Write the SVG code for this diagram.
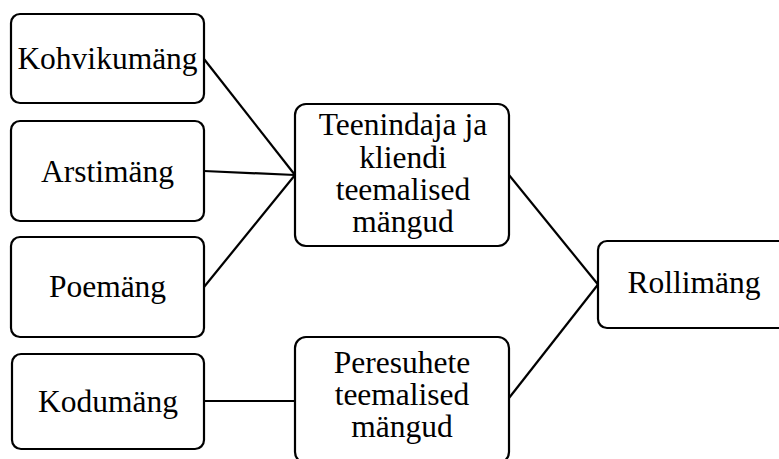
<svg xmlns="http://www.w3.org/2000/svg" width="779" height="459" viewBox="0 0 779 459">
<style>
.box{fill:#fff;stroke:#000;stroke-width:2.2}
text{font-family:"Times New Roman","Liberation Serif",Tinos,"DejaVu Serif","Noto Serif",serif;font-size:31.5px;fill:#000;text-anchor:middle}
.c line{stroke:#000;stroke-width:2.2}
</style>
<rect width="779" height="459" fill="#fff"/>
<g class="c" id="connectors">
<line x1="204" y1="59" x2="295" y2="175"/>
<line x1="204" y1="171" x2="295" y2="175"/>
<line x1="204" y1="287" x2="295" y2="175"/>
<line x1="204" y1="401" x2="295" y2="401"/>
<line x1="509" y1="175" x2="598" y2="284.5"/>
<line x1="509" y1="398" x2="598" y2="284.5"/>
</g>
<g id="kohvikumang"><rect class="box" x="11" y="14" width="193" height="89" rx="9"/><text x="107.5" y="68.5">Kohvikumäng</text></g>
<g id="arstimang"><rect class="box" x="11" y="121" width="193" height="100" rx="9"/><text x="107.5" y="182">Arstimäng</text></g>
<g id="poemang"><rect class="box" x="11" y="237" width="193" height="100" rx="9"/><text x="107.5" y="297">Poemäng</text></g>
<g id="kodumang"><rect class="box" x="12" y="354" width="192" height="95" rx="9"/><text x="108" y="412">Kodumäng</text></g>
<g id="teenindaja"><rect class="box" x="295" y="104" width="214" height="142" rx="11"/><text x="403" y="135">Teenindaja ja</text><text x="403" y="167.5">kliendi</text><text x="403" y="200">teemalised</text><text x="403" y="232">mängud</text></g>
<g id="peresuhete"><rect class="box" x="295" y="337" width="214" height="126" rx="11"/><text x="402" y="373">Peresuhete</text><text x="402" y="405">teemalised</text><text x="402" y="437">mängud</text></g>
<g id="rollimang"><rect class="box" x="598" y="241" width="192" height="87" rx="9"/><text x="694" y="293">Rollimäng</text></g>
</svg>
